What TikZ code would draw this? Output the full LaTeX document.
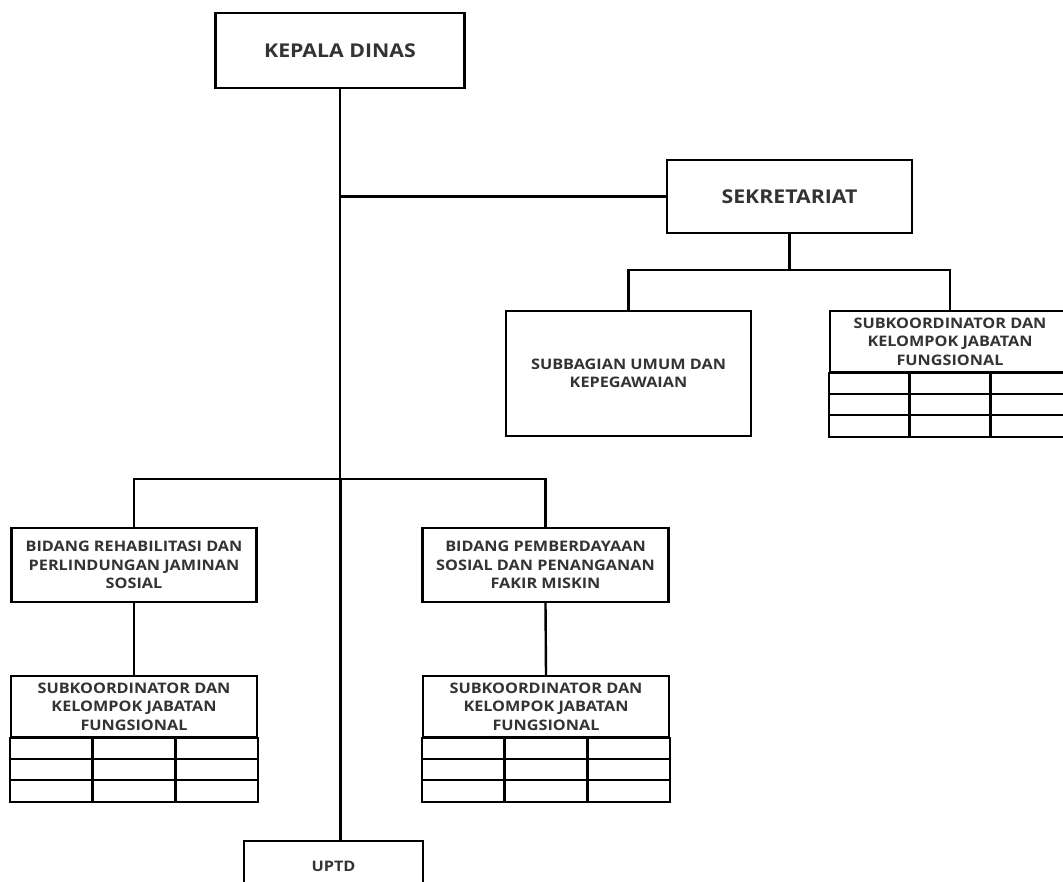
\documentclass[tikz,border=0pt]{standalone}
\usepackage{fontspec}
\setmainfont{Open Sans}[FakeStretch=1.12]
\usepackage{tikz}
\usetikzlibrary{calc}

\tikzset{
  unit/.style={draw=black, line width=2.4pt, fill=white, align=center, text=black!80,
    font=\bfseries\fontsize{14.5}{18.5}\selectfont, inner sep=0pt},
  bigunit/.style={unit, font=\bfseries\fontsize{19}{22}\selectfont},
  link/.style={line width=2.4pt},
}

\begin{document}
\begin{tikzpicture}[x=1pt,y=-1pt]
\clip (0,0) rectangle (1063,882);%page
\fill[white] (0,0) rectangle (1063,882);
% boxes
\node[bigunit, minimum width=249, minimum height=75] (kepala) at (340,50.5) {KEPALA DINAS};
\node[bigunit, minimum width=245, minimum height=73] (sekretariat) at (789.5,196.5) {SEKRETARIAT};
\node[unit, minimum width=245, minimum height=125] (subbag) at (628.5,373.5) {SUBBAGIAN UMUM DAN\\KEPEGAWAIAN};
\node[unit, minimum width=240, minimum height=61] (subkorSek) at (950,341.5) {SUBKOORDINATOR DAN\\KELOMPOK JABATAN\\FUNGSIONAL};
\node[unit, minimum width=245, minimum height=74] (bidRehab) at (134,565) {BIDANG REHABILITASI DAN\\PERLINDUNGAN JAMINAN\\SOSIAL};
\node[unit, minimum width=246, minimum height=74] (bidDaya) at (545.5,565) {BIDANG PEMBERDAYAAN\\SOSIAL DAN PENANGANAN\\FAKIR MISKIN};
\node[unit, minimum width=246, minimum height=61] (subkorRehab) at (134,706.5) {SUBKOORDINATOR DAN\\KELOMPOK JABATAN\\FUNGSIONAL};
\node[unit, minimum width=246, minimum height=61] (subkorDaya) at (546,706.5) {SUBKOORDINATOR DAN\\KELOMPOK JABATAN\\FUNGSIONAL};
\node[unit, minimum width=179, minimum height=50] (uptd) at (333.5,866) {UPTD};
% tables under the subkoordinator boxes
\foreach \n in {subkorSek,subkorRehab,subkorDaya}{
  \draw[link] (\n.south west) rectangle ($(\n.south east)+(0,64)$);
  \foreach \r in {21,42}
    \draw[link] ($(\n.south west)+(0,\r)$) -- ($(\n.south east)+(0,\r)$);
  \foreach \c in {1,2}
    \draw[link] ($(\n.south west)!\c/3!(\n.south east)$) -- ++(0,64);
}
% connectors
\coordinate (secBus) at (789.5,270);
\coordinate (bidBus) at (340,479);
\draw[link] (kepala.south) -- (bidBus);
\draw[line width=3pt] (bidBus) -- (kepala.south |- uptd.north);%trunk
\draw[link] (kepala.south |- sekretariat.west) -- (sekretariat.west);
\draw[link] (sekretariat.south) -- (secBus);
\draw[link] (subbag.north) |- (secBus) -| (subkorSek.north);
\draw[link] (bidRehab.north) |- (bidBus) -| (bidDaya.north);
\draw[link] (bidRehab.south) -- (subkorRehab.north);
\draw[link] (bidDaya.south) -- (subkorDaya.north);
\end{tikzpicture}
\end{document}
